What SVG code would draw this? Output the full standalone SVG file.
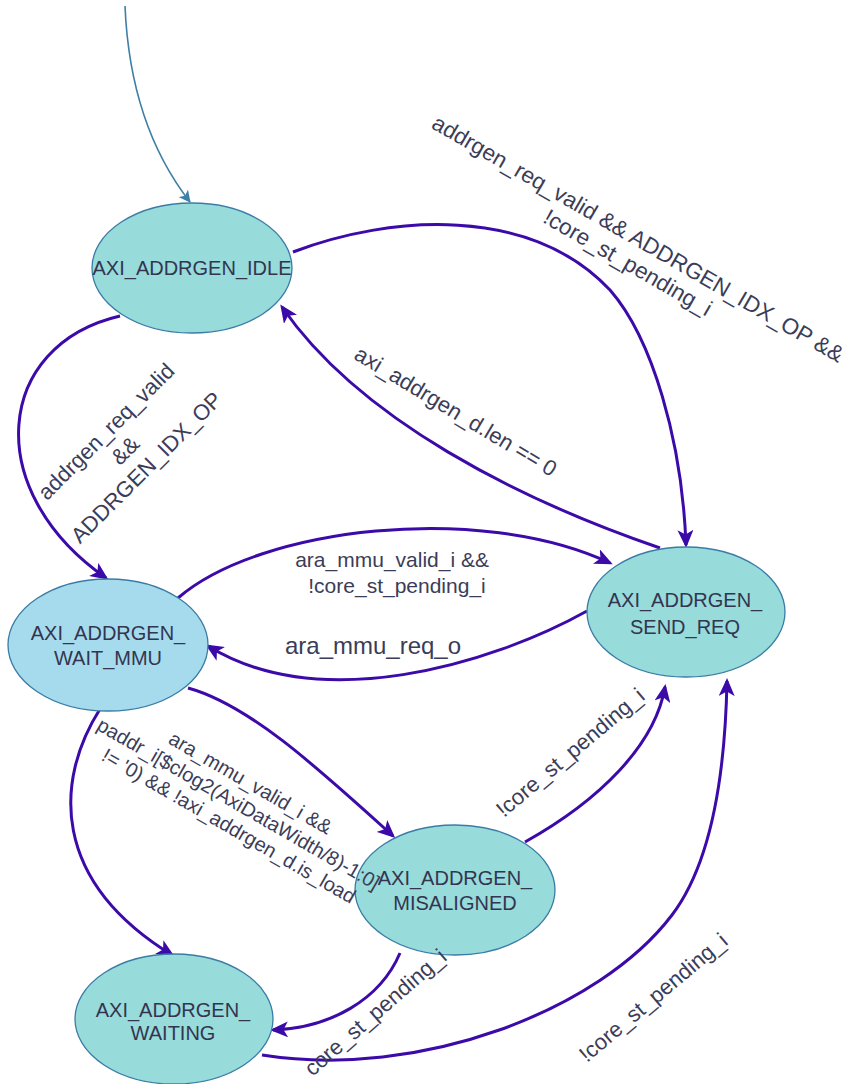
<svg xmlns="http://www.w3.org/2000/svg" width="853" height="1084" viewBox="0 0 853 1084">
  <defs>
    <style>
      .state { fill: #97dbdb; stroke: #3a7ca5; stroke-width: 1.3; }
      .state.mmu { fill: #a6dbee; }
      .stxt { font-family: "Liberation Sans", Arial, sans-serif; font-size: 20px; fill: #33354f; text-anchor: middle; }
      .edge { fill: none; stroke: #3b0aa8; stroke-width: 3; marker-end: url(#arrow); }
      .init { fill: none; stroke: #3d7fa6; stroke-width: 1.6; marker-end: url(#arrowInit); }
      .lbl { font-family: "Liberation Sans", Arial, sans-serif; font-size: 22px; fill: #3b3d58; text-anchor: middle; }
    </style>
    <marker id="arrow" markerUnits="userSpaceOnUse" markerWidth="18" markerHeight="16" viewBox="0 0 18 16" refX="15" refY="8" orient="auto">
      <path d="M0,0 L18,8 L0,16 L4.5,8 z" fill="#3b0aa8"/>
    </marker>
    <marker id="arrowInit" markerUnits="userSpaceOnUse" markerWidth="12" markerHeight="12" viewBox="0 0 12 12" refX="11" refY="6" orient="auto">
      <path d="M0,0 L12,6 L0,12 L3,6 z" fill="#3d7fa6"/>
    </marker>
  </defs>

  <rect width="853" height="1084" fill="#ffffff"/>

  <!-- transitions -->
  <g id="connectors">
    <path class="init" d="M125,6 Q130,125 190,202"/>
    <!-- IDLE -> SEND_REQ -->
    <path class="edge" d="M293,252 C390,215 530,205 610,290 C652,338 682,440 686,545"/>
    <!-- SEND_REQ -> IDLE -->
    <path class="edge" d="M660,548 C520,500 360,420 282,307"/>
    <!-- IDLE -> WAIT_MMU -->
    <path class="edge" d="M120,316 C-5,345 -20,490 106,578"/>
    <!-- WAIT_MMU -> SEND_REQ -->
    <path class="edge" d="M178,598 C260,527 480,502 610,563"/>
    <!-- SEND_REQ -> WAIT_MMU -->
    <path class="edge" d="M587,611 C490,665 320,715 208,646"/>
    <!-- WAIT_MMU -> MISALIGNED -->
    <path class="edge" d="M188,688 C250,705 320,770 393,836"/>
    <!-- WAIT_MMU -> WAITING -->
    <path class="edge" d="M100,709 C55,780 50,880 172,955"/>
    <!-- MISALIGNED -> SEND_REQ -->
    <path class="edge" d="M525,842 C600,800 655,745 665,687"/>
    <!-- MISALIGNED -> WAITING -->
    <path class="edge" d="M400,953 C380,1000 330,1028 273,1030"/>
    <!-- WAITING -> SEND_REQ -->
    <path class="edge" d="M262,1055 C420,1080 600,1010 672,915 C710,865 725,780 727,681"/>
  </g>

  <!-- states -->
  <g id="state-idle">
    <ellipse class="state" cx="192" cy="268" rx="100" ry="65"/>
    <text class="stxt" x="192" y="275">AXI_ADDRGEN_IDLE</text>
  </g>
  <g id="state-wait-mmu">
    <ellipse class="state mmu" cx="108" cy="645" rx="100" ry="66"/>
    <text class="stxt"><tspan x="108" y="640">AXI_ADDRGEN_</tspan><tspan x="108" y="665">WAIT_MMU</tspan></text>
  </g>
  <g id="state-send-req">
    <ellipse class="state" cx="686" cy="612" rx="99" ry="65"/>
    <text class="stxt"><tspan x="685" y="607">AXI_ADDRGEN_</tspan><tspan x="685" y="634">SEND_REQ</tspan></text>
  </g>
  <g id="state-misaligned">
    <ellipse class="state" cx="455" cy="890" rx="100" ry="65"/>
    <text class="stxt"><tspan x="455" y="885">AXI_ADDRGEN_</tspan><tspan x="455" y="910">MISALIGNED</tspan></text>
  </g>
  <g id="state-waiting">
    <ellipse class="state" cx="174" cy="1019" rx="99" ry="65"/>
    <text class="stxt"><tspan x="173" y="1017">AXI_ADDRGEN_</tspan><tspan x="173" y="1040">WAITING</tspan></text>
  </g>

  <!-- transition labels, drawn above the states -->
  <g id="labels">
    <text class="lbl" style="font-size:22.5px" transform="rotate(30 634 252)">
      <tspan x="634" y="246">addrgen_req_valid &amp;&amp; ADDRGEN_IDX_OP &amp;&amp;</tspan>
      <tspan x="634" y="272">!core_st_pending_i</tspan>
    </text>
    <text class="lbl" x="456" y="419" transform="rotate(31 456 411)">axi_addrgen_d.len == 0</text>
    <text class="lbl" transform="rotate(-45 127 448)">
      <tspan x="127" y="429">addrgen_req_valid</tspan>
      <tspan x="127" y="456">&amp;&amp;</tspan>
      <tspan x="127" y="483">ADDRGEN_IDX_OP</tspan>
    </text>
    <text class="lbl" style="font-size:21px">
      <tspan x="395" y="567">ara_mmu_valid_i &amp;&amp;</tspan>
      <tspan x="397" y="593">!core_st_pending_i</tspan>
    </text>
    <text class="lbl" x="373" y="654" style="font-size:24px">ara_mmu_req_o</text>
    <text class="lbl" style="font-size:20px" transform="rotate(30 241 805)">
      <tspan x="241" y="788">ara_mmu_valid_i &amp;&amp;</tspan>
      <tspan x="241" y="812">paddr_i[$clog2(AxiDataWidth/8)-1:0]</tspan>
      <tspan x="241" y="836">!= '0) &amp;&amp; !axi_addrgen_d.is_load</tspan>
    </text>
    <text class="lbl" x="570" y="760" transform="rotate(-40 570 752)">!core_st_pending_i</text>
    <text class="lbl" x="375" y="1020" transform="rotate(-41 375 1012)">core_st_pending_i</text>
    <text class="lbl" x="653" y="1005" transform="rotate(-40 653 997)">!core_st_pending_i</text>
  </g>
</svg>
